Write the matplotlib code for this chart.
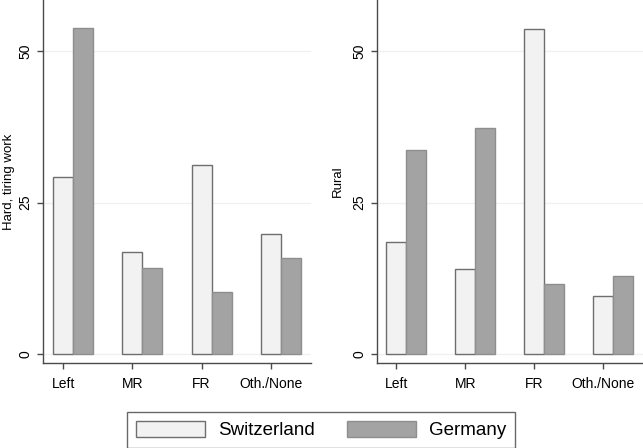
import matplotlib
matplotlib.use("Agg")
from matplotlib import pyplot as plt
from matplotlib.patches import Patch

plt.rcParams['font.family'] = ['Liberation Sans', 'DejaVu Sans']

categories = ['Left', 'MR', 'FR', 'Oth./None']
series = ['Switzerland', 'Germany']
hard_work_ch = [29.3, 16.9, 31.2, 19.8]
hard_work_de = [53.9, 14.2, 10.2, 15.9]
rural_ch = [18.5, 14.0, 53.7, 9.5]
rural_de = [33.7, 37.3, 11.6, 12.9]
y_ticks = [0, 25, 50]

fill_ch = '#f2f2f2'
fill_de = '#a3a3a3'
edge_ch = '#6e6e6e'
edge_de = '#8e8e8e'
axis_col = '#4a4a4a'


def drawPanel(ax, swiss, germany, ylabel, xlim, label_x):
    pos = list(range(len(categories)))
    w = 0.29
    ax.bar([p - w / 2 for p in pos], swiss, width=w, color=fill_ch, edgecolor=edge_ch, linewidth=1, zorder=3)
    ax.bar([p + w / 2 for p in pos], germany, width=w, color=fill_de, edgecolor=edge_de, linewidth=1, zorder=3)
    ax.set_xlim(*xlim)
    ax.set_ylim(-1.5, 58.5)
    ax.set_yticks(y_ticks)
    ax.set_yticklabels([str(t) for t in y_ticks], rotation=90, va='center')
    ax.set_xticks([p - w / 2 for p in pos])
    ax.set_xticklabels(categories)
    ax.set_ylabel(ylabel, fontsize=9.5)
    ax.yaxis.set_label_coords(label_x, 0.5)
    ax.grid(axis='y', color='#f0f0f0', linewidth=1, zorder=0)
    for s in ['top', 'right']:
        ax.spines[s].set_visible(False)
    for s in ['left', 'bottom']:
        ax.spines[s].set_color(axis_col)
        ax.spines[s].set_linewidth(1)
    ax.tick_params(axis='both', colors=axis_col, labelcolor='black', labelsize=10, length=4, width=1)
    ax.tick_params(axis='x', pad=6)


fig = plt.figure(figsize=(6.43, 4.48), dpi=100)
ax1 = fig.add_axes([43 / 643, 1 - 363 / 448, 268 / 643, 363 / 448])
ax2 = fig.add_axes([377 / 643, 1 - 363 / 448, 266 / 643, 363 / 448])

drawPanel(ax1, hard_work_ch, hard_work_de, 'Hard, tiring work', (-0.44, 3.44), -0.105)
drawPanel(ax2, rural_ch, rural_de, 'Rural', (-0.425, 3.43), -0.125)

handles = [Patch(facecolor=fill_ch, edgecolor=edge_ch, linewidth=1),
           Patch(facecolor=fill_de, edgecolor=edge_de, linewidth=1)]
leg = fig.legend(handles, series, loc='center', bbox_to_anchor=(321 / 643, 1 - 430 / 448),
                 ncol=2, fontsize=13.5, frameon=True, fancybox=False,
                 handlelength=3.7, handleheight=0.95, handletextpad=0.7,
                 columnspacing=1.7, borderpad=0.45, borderaxespad=0)
leg.get_frame().set_edgecolor('#444444')
leg.get_frame().set_linewidth(1)

plt.savefig('out.png', dpi=100)
